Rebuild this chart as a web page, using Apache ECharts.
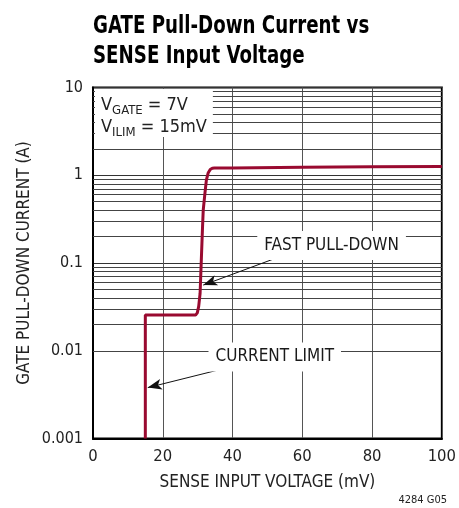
<!DOCTYPE html>
<html>
<head>
<meta charset="utf-8">
<script src="https://cdn.jsdelivr.net/npm/echarts@6/dist/echarts.min.js"></script>
<style>html,body{margin:0;padding:0;background:#fff;}#c{width:459px;height:508px;}</style>
</head>
<body>
<div id="c"></div>
<script>
// Data
const curveX = [15, 15, 29.4, 29.9, 30.3, 30.7, 31.05, 31.4, 31.6, 32.1, 32.5, 33.0, 33.6, 34.2, 34.8, 40, 60, 80, 100];
const curveY = [0.001, 0.0255, 0.0255, 0.027, 0.032, 0.045, 0.108, 0.257, 0.40, 0.63, 0.88, 1.06, 1.16, 1.2, 1.21, 1.21, 1.23, 1.25, 1.26];
const xTicks = [0, 20, 40, 60, 80, 100];
const yTicks = [0.001, 0.01, 0.1, 1, 10];
const yTickLabels = ['0.001', '0.01', '0.1', '1', '10'];
const minorMult = [2, 3, 4, 5, 6, 7, 8, 9];
const minorDecades = [0.001, 0.01, 0.1, 1];
const notes = [
  { text: 'FAST PULL-DOWN', x: 68.4, y: 0.158, fromX: 53.3, fromY: 0.117, toX: 31.6, toY: 0.056 },
  { text: 'CURRENT LIMIT', x: 52.1, y: 0.0085, fromX: 38.5, fromY: 0.0064, toX: 15.7, toY: 0.0038 }
];

const FONT = '"Liberation Sans Narrow","DejaVu Sans Condensed",sans-serif';
const minorLines = [];
minorDecades.forEach(d => minorMult.forEach(m => minorLines.push(+(d * m).toPrecision(3))));

const chart = echarts.init(document.getElementById('c'));
chart.setOption({
  animation: false,
  backgroundColor: '#fff',
  grid: { left: 93, right: 15, top: 87.5, bottom: 69.5, show: true, borderColor: '#000', borderWidth: 2, backgroundColor: 'transparent' },
  xAxis: {
    type: 'value', min: 0, max: 100, interval: 20,
    name: 'SENSE INPUT VOLTAGE (mV)', nameLocation: 'middle', nameGap: 36,
    nameTextStyle: { fontFamily: FONT, fontSize: 17, color: '#222' },
    axisLine: { show: true, lineStyle: { color: '#000', width: 2 } },
    axisTick: { show: false },
    axisLabel: { fontFamily: FONT, fontSize: 16.5, color: '#222', margin: 10,
      formatter: v => xTicks.indexOf(v) >= 0 ? String(v) : '' },
    splitLine: { show: true, lineStyle: { color: '#555', width: 1 } }
  },
  yAxis: {
    type: 'log', logBase: 10, min: 0.001, max: 10,
    name: 'GATE PULL-DOWN CURRENT (A)', nameLocation: 'middle', nameGap: 60, nameMoveOverlap: false,
    nameTextStyle: { fontFamily: FONT, fontSize: 17, color: '#222' },
    axisLine: { show: true, lineStyle: { color: '#000', width: 2 } },
    axisTick: { show: false },
    axisLabel: { fontFamily: FONT, fontSize: 16, color: '#222', margin: 10,
      formatter: v => { const i = yTicks.findIndex(t => Math.abs(t - v) / t < 1e-6); return i >= 0 ? yTickLabels[i] : ''; } },
    splitLine: { show: true, lineStyle: { color: '#333', width: 1 } }
  },
  graphic: [
    {
      type: 'text', x: 93, y: 11, scaleX: 0.81, z: 100,
      style: {
        text: 'GATE Pull-Down Current vs\nSENSE Input Voltage',
        fontFamily: FONT, fontSize: 25, fontWeight: 'bold', fill: '#000', lineHeight: 30,
        verticalAlign: 'top', align: 'left'
      }
    },
    {
      type: 'text', x: 95, y: 89, z: 100,
      style: {
        text: '{v|V}{s|GATE}{v| = 7V}\n{v|V}{s|ILIM}{v| = 15mV}',
        backgroundColor: '#fff', padding: [3, 6, 1, 6],
        rich: {
          v: { fontFamily: FONT, fontSize: 18, fill: '#222', lineHeight: 22, verticalAlign: 'bottom' },
          s: { fontFamily: FONT, fontSize: 13, fill: '#222', lineHeight: 22, verticalAlign: 'bottom', padding: [0, 0, -3, 0] }
        }
      }
    },
    {
      type: 'text', right: 12, top: 495,
      style: { text: '4284 G05', fontFamily: FONT, fontSize: 11, fill: '#222' }
    }
  ],
  series: [
    {
      type: 'line', silent: true, symbol: 'none', data: [], z: 1,
      markLine: {
        silent: true, symbol: ['none', 'none'], label: { show: false },
        lineStyle: { color: '#444', width: 1, type: 'solid' },
        data: minorLines.map(v => ({ yAxis: v }))
      }
    },
    {
      type: 'line', symbol: 'none', z: 5,
      lineStyle: { color: '#990a30', width: 3 },
      data: curveX.map((x, i) => [x, curveY[i]])
    },
    {
      type: 'scatter', symbolSize: 0, z: 10, silent: true,
      itemStyle: { opacity: 1 },
      data: notes.map(n => ({ value: [n.x, n.y], name: n.text })),
      label: {
        show: true, position: 'inside', formatter: p => p.name,
        fontFamily: FONT, fontSize: 17, color: '#1a1a1a', opacity: 1,
        backgroundColor: '#fff', padding: [6, 7, 6, 7]
      },
      markLine: {
        silent: true, symbol: ['none', 'arrow'], symbolSize: [8, 14],
        label: { show: false },
        lineStyle: { color: '#111', width: 1, type: 'solid' },
        data: notes.map(n => [{ coord: [n.fromX, n.fromY] }, { coord: [n.toX, n.toY] }])
      }
    }
  ]
});
</script>
</body>
</html>
